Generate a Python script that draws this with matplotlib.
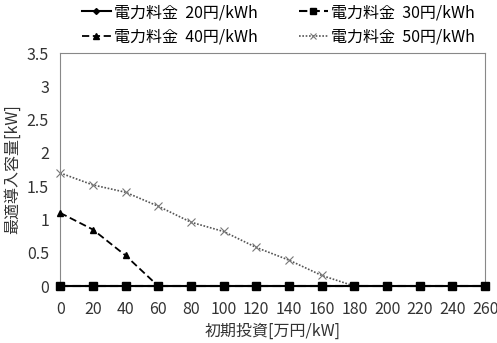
import matplotlib
matplotlib.use("Agg")
import matplotlib.pyplot as plt

plt.rcParams['font.family'] = ['Noto Sans CJK JP', 'DejaVu Sans']

# initial investment [10k yen / kW]
investment = [0, 20, 40, 60, 80, 100, 120, 140, 160, 180, 200, 220, 240, 260]

cap_20 = [0] * 14
cap_30 = [0] * 14
cap_40 = [1.10, 0.85, 0.46, 0, 0, 0, 0, 0, 0, 0, 0, 0, 0, 0]
cap_50 = [1.70, 1.52, 1.41, 1.20, 0.96, 0.82, 0.58, 0.39, 0.16, 0, 0, 0, 0, 0]

labels = ["電力料金  20円/kWh", "電力料金  30円/kWh",
          "電力料金  40円/kWh", "電力料金  50円/kWh"]

fs = 11.5
fig = plt.figure(figsize=(4.97, 3.43), dpi=100)
ax = fig.add_axes([0.121, 0.166, 0.855, 0.679])

l50, = ax.plot(investment, cap_50, color="#555555", linestyle=(0, (1, 1)), linewidth=1.2,
               marker="x", markersize=6, markeredgewidth=0.8, markeredgecolor="#777777",
               label=labels[3], zorder=2, clip_on=False)
l40, = ax.plot(investment, cap_40, color="black", linestyle=(0, (4, 2)), linewidth=1.3,
               marker="^", markersize=5, label=labels[2], zorder=3, clip_on=False)
l30, = ax.plot(investment, cap_30, color="black", linestyle=(0, (4, 2)), linewidth=1.5,
               marker="s", markersize=6, label=labels[1], zorder=5, clip_on=False)
l20, = ax.plot(investment, cap_20, color="black", linestyle="-", linewidth=1.5,
               marker="D", markersize=4, label=labels[0], zorder=4, clip_on=False)

ax.set_xlim(0, 260)
ax.set_ylim(0, 3.5)
ax.set_xticks(investment)
ax.set_yticks([0, 0.5, 1, 1.5, 2, 2.5, 3, 3.5])
ax.set_yticklabels(["0", "0.5", "1", "1.5", "2", "2.5", "3", "3.5"])
ax.tick_params(length=0, labelsize=fs, colors="#333333", pad=8)
ax.tick_params(axis="x", pad=11)
for s in ax.spines.values():
    s.set_color("#888888")
    s.set_linewidth(0.8)

ax.set_xlabel("初期投資[万円/kW]", fontsize=fs, color="#333333", labelpad=3)
ax.set_ylabel("最適導入容量[kW]", fontsize=fs, color="#333333", labelpad=4)

# row 1: 20, 30 ; row 2: 40, 50 (legend fills column by column)
fig.legend([l20, l40, l30, l50], [labels[0], labels[2], labels[1], labels[3]],
           loc="upper center", bbox_to_anchor=(0.56, 1.03), ncol=2,
           frameon=False, fontsize=fs, handlelength=1.8, handletextpad=0.2,
           columnspacing=2.6, labelspacing=0.45, markerscale=0.75)

fig.savefig("out.png", dpi=100)
